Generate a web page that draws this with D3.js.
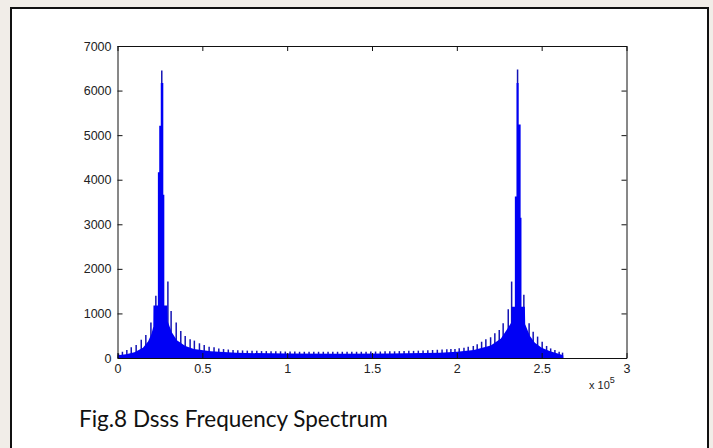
<meta charset="utf-8">
<html>
<head>
<style>
  body { margin: 0; background: #f1ede8; }
  .axis text { font-family: "Liberation Sans", Arial, sans-serif; font-size: 12.5px; fill: #222; }
  .axis line, .axis path { stroke: #111; }
</style>
</head>
<body>
<script src="https://d3js.org/d3.v7.min.js"></script>
<div id="chart"></div>
<script>

// tick labels
var xTicks = [0, 0.5, 1, 1.5, 2, 2.5, 3];
var yTicks = [0, 1000, 2000, 3000, 4000, 5000, 6000, 7000];

// solid floor of the spectrum (x in 1e5, magnitude)
var floorX = [0, 0.001, 0.05, 0.10, 0.15, 0.18, 0.20, 0.211, 0.212, 0.294, 0.296, 0.32, 0.35, 0.40, 0.45, 0.55, 0.70,
              1.00, 1.30, 1.60, 1.90, 2.00, 2.10, 2.20, 2.26, 2.30, 2.322, 2.323, 2.401, 2.403, 2.43, 2.46, 2.50,
              2.55, 2.60, 2.627, 2.628];
var floorY = [0, 60, 85, 130, 230, 370, 540, 700, 1180, 1180, 820, 580, 400, 270, 200, 150, 115,
              100, 95, 100, 115, 140, 180, 280, 440, 670, 800, 1150, 1150, 760, 500, 340, 230,
              150, 95, 60, 0];

// comb teeth of the spectrum
var toothX = [0.006, 0.029, 0.055, 0.081, 0.110, 0.140, 0.167, 0.197, 0.226, 0.261,
              0.297, 0.316, 0.346, 0.373, 0.399, 0.428, 0.453, 0.483, 0.511, 0.540, 0.569, 0.597,
              0.625, 0.653, 0.681, 0.709, 0.737, 0.765, 0.793, 0.821, 0.849, 0.877, 0.905, 0.933,
              0.961, 0.989, 1.017, 1.045, 1.073, 1.101, 1.129, 1.157, 1.185, 1.213, 1.241, 1.269,
              1.297, 1.325, 1.353, 1.381, 1.409, 1.437, 1.465, 1.493, 1.521, 1.549, 1.577, 1.605,
              1.633, 1.661, 1.689, 1.717, 1.745, 1.773, 1.801, 1.829, 1.857, 1.885, 1.913, 1.941,
              1.965, 1.989, 2.014, 2.042, 2.067, 2.097, 2.120, 2.146, 2.171, 2.199, 2.224, 2.250,
              2.273, 2.303, 2.323, 2.358, 2.395, 2.426, 2.450, 2.476, 2.503, 2.529, 2.553, 2.578,
              2.603, 2.623];
var toothY = [100, 140, 180, 240, 290, 410, 515, 795, 1395, 6450,
              1715, 1055, 795, 605, 495, 420, 390, 330, 290, 255, 240, 215,
              200, 190, 180, 175, 170, 165, 160, 160, 155, 155, 150, 150,
              150, 145, 145, 145, 140, 140, 140, 140, 140, 140, 140, 140,
              140, 140, 140, 140, 140, 140, 140, 145, 145, 145, 150, 150,
              150, 155, 155, 160, 160, 165, 170, 175, 180, 185, 190, 195,
              200, 202, 218, 232, 255, 270, 308, 365, 420, 465, 555, 630,
              780, 1095, 1715, 6470, 1420, 780, 590, 480, 365, 270, 215, 180,
              140, 120];

// central bins of the two carrier peaks (step after)
var leftPeakX = [0.238, 0.246, 0.255, 0.270, 0.276];
var leftPeakY = [4170, 5210, 6170, 3660, 3660];
var rightPeakX = [2.342, 2.352, 2.364, 2.376, 2.381];
var rightPeakY = [3625, 6170, 5240, 3145, 3145];

var W = 713, H = 448;
var svg = d3.select("#chart").append("svg")
    .attr("width", W).attr("height", H);

// page frame
svg.append("rect")
    .attr("x", 11).attr("y", 8)
    .attr("width", 697).attr("height", 460)
    .attr("fill", "#fff").attr("stroke", "#111").attr("stroke-width", 2);

var x = d3.scaleLinear().domain([0, 3]).range([117.5, 626.5]);
var y = d3.scaleLinear().domain([0, 7000]).range([358, 46]);

var blue = "#0000f5";

// teeth (dark tips show above the floor)
svg.append("g").selectAll("line")
  .data(toothX)
  .enter().append("line")
    .attr("x1", function(d) { return x(d); })
    .attr("x2", function(d) { return x(d); })
    .attr("y1", y(0))
    .attr("y2", function(d, i) { return y(toothY[i]); })
    .attr("stroke", "#1414b4")
    .attr("stroke-width", 1.5);

var floorData = floorX.map(function(v, i) { return [v, floorY[i]]; });
var area = d3.area()
    .x(function(d) { return x(d[0]); })
    .y0(y(0))
    .y1(function(d) { return y(d[1]); });

svg.append("path")
    .datum(floorData)
    .attr("d", area)
    .attr("fill", blue);

var stepArea = d3.area()
    .curve(d3.curveStepAfter)
    .x(function(d) { return x(d[0]); })
    .y0(y(0))
    .y1(function(d) { return y(d[1]); });

[[leftPeakX, leftPeakY], [rightPeakX, rightPeakY]].forEach(function(p) {
  svg.append("path")
      .datum(p[0].map(function(v, i) { return [v, p[1][i]]; }))
      .attr("d", stepArea)
      .attr("fill", blue);
});

// axes box, ticks inside
svg.append("g").attr("class", "axis")
    .attr("transform", "translate(0," + y(0) + ")")
    .call(d3.axisBottom(x).tickValues(xTicks).tickSize(-5).tickSizeOuter(0).tickPadding(6)
      .tickFormat(function(d) { return d; }));
svg.append("g").attr("class", "axis")
    .attr("transform", "translate(0," + y(7000) + ")")
    .call(d3.axisTop(x).tickValues(xTicks).tickSize(-5).tickSizeOuter(0).tickFormat(""));
svg.append("g").attr("class", "axis")
    .attr("transform", "translate(" + x(0) + ",0)")
    .call(d3.axisLeft(y).tickValues(yTicks).tickSize(-5).tickSizeOuter(0).tickPadding(6)
      .tickFormat(function(d) { return d; }));
svg.append("g").attr("class", "axis")
    .attr("transform", "translate(" + x(3) + ",0)")
    .call(d3.axisRight(y).tickValues(yTicks).tickSize(-5).tickSizeOuter(0).tickFormat(""));

// exponent label
var ex = svg.append("text")
    .attr("x", 589).attr("y", 389)
    .attr("font-family", "Liberation Sans, Arial, sans-serif")
    .attr("font-size", 11).attr("fill", "#222")
    .text("x 10");
ex.append("tspan").attr("dy", -6).attr("font-size", 9).text("5");

// caption
svg.append("text")
    .attr("x", 79).attr("y", 427)
    .attr("font-family", "Lato, 'Open Sans', sans-serif")
    .attr("font-size", 22.5).attr("fill", "#111")
    .text("Fig.8 Dsss Frequency Spectrum");

</script>
</body>
</html>
